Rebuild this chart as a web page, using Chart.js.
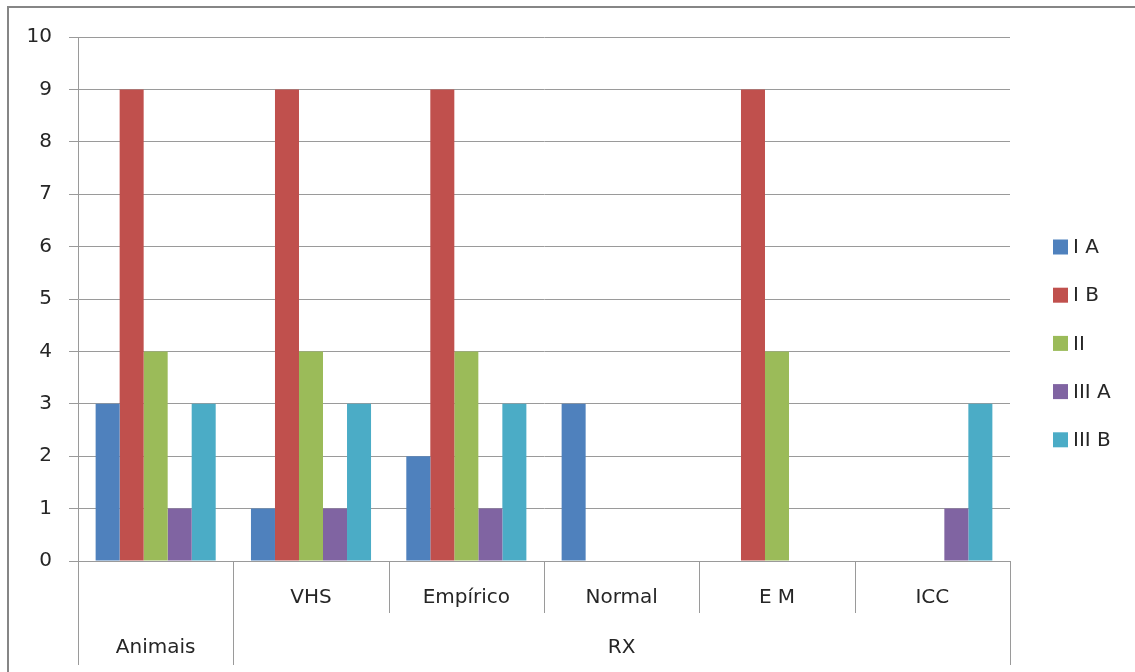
<!DOCTYPE html>
<html>
<head>
<meta charset="utf-8">
<script src="https://cdn.jsdelivr.net/npm/chart.js@4"></script>
<style>
  html, body { margin: 0; padding: 0; background: #fff; }
  #wrap { width: 1135px; height: 672px; position: relative; }
</style>
</head>
<body>
<div id="wrap"><canvas id="chart"></canvas></div>
<script>
const subLabels = ['', 'VHS', 'Empírico', 'Normal', 'E M', 'ICC'];
const groupLabels = ['Animais', 'RX'];
const groupSpans = [1, 5];
const seriesNames = ['I A', 'I B', 'II', 'III A', 'III B'];
const seriesColors = ['#4F81BD', '#C0504D', '#9BBB59', '#8064A2', '#4BACC6'];
const valuesIA = [3, 1, 2, 3, 0, 0];
const valuesIB = [9, 9, 9, 0, 9, 0];
const valuesII = [4, 4, 4, 0, 4, 0];
const valuesIIIA = [1, 1, 1, 0, 0, 1];
const valuesIIIB = [3, 3, 3, 0, 0, 3];
const yTicks = [0, 1, 2, 3, 4, 5, 6, 7, 8, 9, 10];

const FONT = 'DejaVu Sans';
const FSIZE = 20;
const LINE = '#9a9a9a';
const ROW = 52;

function qs(sel) {
  return document.querySelector(sel);
}

// category separators, group labels, frame and legend
const excelAxis = {
  id: 'excelAxis',
  afterDraw(chart) {
    const ctx = chart.ctx;
    const xs = chart.scales.x;
    const area = chart.chartArea;
    const n = subLabels.length;
    const step = (area.right - area.left) / n;
    const bounds = [0];
    groupSpans.reduce((acc, s) => { bounds.push(acc + s); return acc + s; }, 0);

    ctx.save();
    ctx.strokeStyle = LINE;
    ctx.lineWidth = 1;
    for (let i = 0; i <= n; i++) {
      const x = Math.round(xs.left + i * step) + 0.5;
      const len = bounds.includes(i) ? ROW * 2 : ROW;
      ctx.beginPath();
      ctx.moveTo(x, area.bottom);
      ctx.lineTo(x, area.bottom + len);
      ctx.stroke();
    }

    ctx.fillStyle = '#262626';
    ctx.font = `${FSIZE}px "${FONT}"`;
    ctx.textAlign = 'center';
    ctx.textBaseline = 'middle';
    groupLabels.forEach((g, k) => {
      const x0 = xs.left + bounds[k] * step;
      const x1 = xs.left + bounds[k + 1] * step;
      ctx.fillText(g, (x0 + x1) / 2, area.bottom + 87);
    });

    // outer frame (top and left only, rest is cut off)
    ctx.strokeStyle = '#868686';
    ctx.lineWidth = 2;
    ctx.beginPath();
    ctx.moveTo(8, 680);
    ctx.lineTo(8, 7);
    ctx.lineTo(1140, 7);
    ctx.stroke();

    // legend
    ctx.textAlign = 'left';
    chart.data.datasets.forEach((ds, i) => {
      const cy = 247 + i * 48.2;
      ctx.fillStyle = ds.backgroundColor;
      ctx.fillRect(1053, cy - 7.5, 15, 15);
      ctx.fillStyle = '#262626';
      ctx.fillText(ds.label, 1073, cy + 1);
    });
    ctx.restore();
  }
};

const datasetValues = [valuesIA, valuesIB, valuesII, valuesIIIA, valuesIIIB];

new Chart(qs('#chart'), {
  type: 'bar',
  data: {
    labels: subLabels,
    datasets: seriesNames.map((name, i) => ({
      label: name,
      data: datasetValues[i],
      backgroundColor: seriesColors[i],
      borderWidth: 0,
      categoryPercentage: 0.773,
      barPercentage: 1,
    })),
  },
  options: {
    responsive: true,
    maintainAspectRatio: false,
    animation: false,
    layout: { padding: { left: 0, right: 125, top: 37, bottom: 7 } },
    plugins: {
      legend: { display: false },
      tooltip: { enabled: false },
    },
    scales: {
      x: {
        grid: { display: true, drawOnChartArea: false, drawTicks: false, color: LINE },
        border: { display: true, color: LINE },
        ticks: {
          color: '#262626',
          font: { family: FONT, size: FSIZE },
          padding: 25,
          maxRotation: 0,
          autoSkip: false,
        },
        afterFit(scale) { scale.height = ROW * 2; },
      },
      y: {
        min: 0,
        max: 10,
        afterBuildTicks(scale) { scale.ticks = yTicks.map((v) => ({ value: v })); },
        grid: { color: LINE, tickLength: 9, lineWidth: 1 },
        border: { display: true, color: LINE },
        ticks: {
          color: '#262626',
          font: { family: FONT, size: FSIZE },
          padding: 17,
        },
        afterFit(scale) { scale.width = 78; },
      },
    },
  },
  plugins: [excelAxis],
});
</script>
</body>
</html>
